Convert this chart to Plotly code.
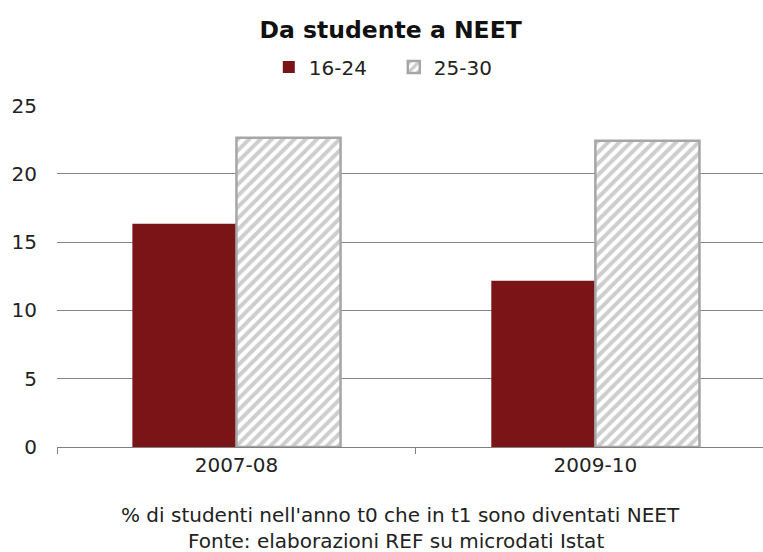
import plotly.graph_objects as go

categories = ["2007-08", "2009-10"]
series_16_24 = [16.35, 12.17]
series_25_30 = [22.65, 22.43]
y_ticks = [0, 5, 10, 15, 20, 25]

FONT = "DejaVu Sans, Verdana, sans-serif"

fig = go.Figure()
fig.add_trace(go.Bar(
    name="16-24", x=categories, y=series_16_24,
    marker=dict(color="#7b1416", line=dict(width=0)),
))
fig.add_trace(go.Bar(
    name="25-30", x=categories, y=series_25_30,
    marker=dict(color="white", line=dict(color="#a6a6a6", width=2.5),
                pattern=dict(shape="/", fgcolor="#9c9c9c", bgcolor="white",
                             size=8, solidity=0.5)),
))

fig.update_layout(
    width=763, height=552,
    margin=dict(l=57, r=0, t=105, b=105),
    paper_bgcolor="white", plot_bgcolor="white",
    font=dict(family=FONT, size=20, color="#222222"),
    title=dict(text="<b>Da studente a NEET</b>", x=0.512, xanchor="center",
               y=1 - 30 / 552, yanchor="middle",
               font=dict(family=FONT, size=23.5, color="#111111")),
    barmode="group", bargap=0.42, bargroupgap=0,
    showlegend=True,
    legend=dict(orientation="h", x=0.300, xanchor="left", y=1.111, yanchor="middle",
                font=dict(size=20), traceorder="normal",
                entrywidth=80, entrywidthmode="pixels"),
    xaxis=dict(type="category", range=[-0.5, 1.467], showgrid=False, showline=True,
               linecolor="#808080", linewidth=1, ticks="outside",
               tickson="boundaries", ticklen=6, tickcolor="#808080",
               tickfont=dict(size=20)),
    yaxis=dict(range=[0, 25.04], tickvals=y_ticks, showgrid=True,
               gridcolor="#868686", gridwidth=1, zeroline=False,
               showline=False, ticks="", ticklabelstandoff=19,
               tickfont=dict(size=20)),
    annotations=[
        dict(text="% di studenti nell'anno t0 che in t1 sono diventati NEET",
             xref="paper", yref="paper", x=0.486, y=-0.199,
             xanchor="center", yanchor="middle", showarrow=False,
             font=dict(size=20)),
        dict(text="Fonte: elaborazioni REF su microdati Istat",
             xref="paper", yref="paper", x=0.480, y=-0.276,
             xanchor="center", yanchor="middle", showarrow=False,
             font=dict(size=20)),
    ],
)

fig.write_html("out.html", config={"displayModeBar": False},
               post_script="document.body.style.margin='0px';document.body.style.overflow='hidden';")
